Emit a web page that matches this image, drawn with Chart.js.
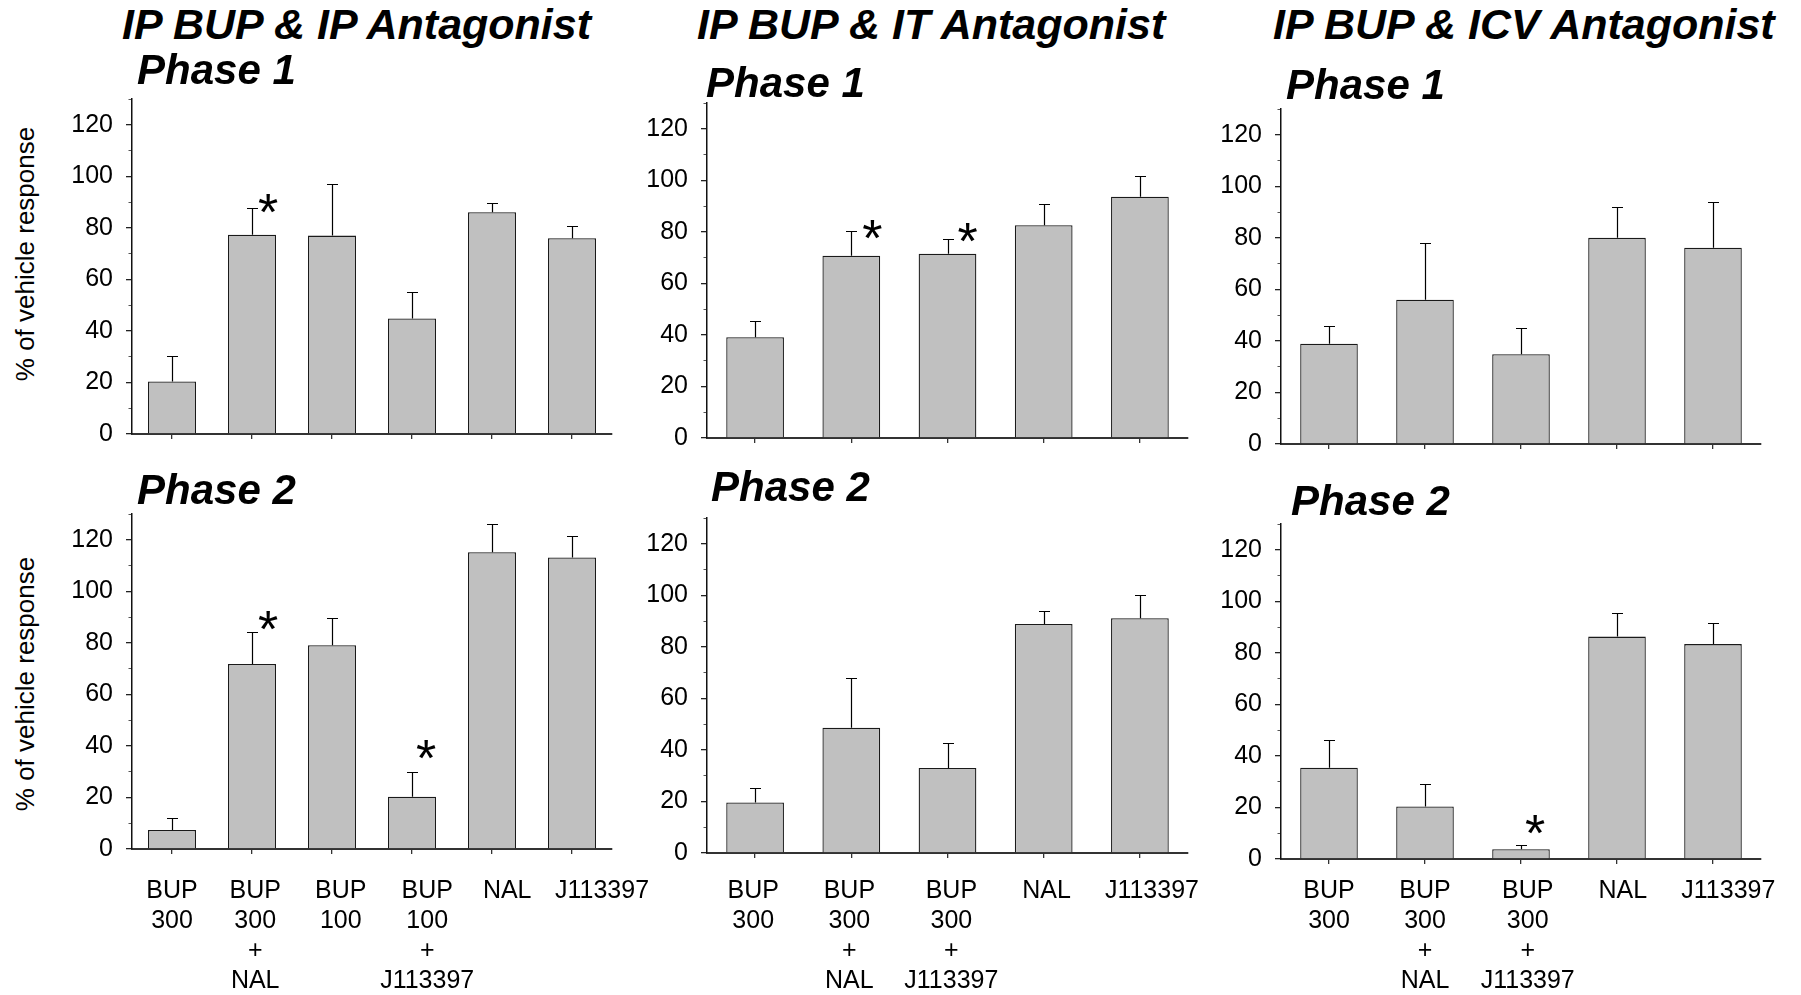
<!DOCTYPE html>
<html>
<head>
<meta charset="utf-8">
<script src="https://cdn.jsdelivr.net/npm/chart.js@4.4.1/dist/chart.umd.min.js"></script>
<style>
html,body{margin:0;padding:0;background:#fff;overflow:hidden;width:1801px;height:995px;}
#stage{position:relative;width:1801px;height:995px;overflow:hidden;}
#stage canvas{position:absolute;}
.t{position:absolute;font-family:'Liberation Sans',Arial,Helvetica,sans-serif;font-weight:bold;font-style:italic;font-size:42px;line-height:42px;white-space:nowrap;color:#000;z-index:5;}
.tt{font-size:43px;}
.yt{position:absolute;font-family:'Liberation Sans',Arial,Helvetica,sans-serif;font-size:26px;line-height:30px;height:30px;width:300px;text-align:center;transform:rotate(-90deg);white-space:nowrap;color:#000;z-index:5;}
</style>
</head>
<body>
<div id="stage">
  <div class="t tt" style="left:122px;top:3px">IP BUP &amp; IP Antagonist</div>
  <div class="t tt" style="left:697px;top:3px">IP BUP &amp; IT Antagonist</div>
  <div class="t tt" style="left:1273px;top:3px">IP BUP &amp; ICV Antagonist</div>
  <div class="t" style="left:137px;top:48.5px">Phase 1</div>
  <div class="t" style="left:706px;top:61.5px">Phase 1</div>
  <div class="t" style="left:1286px;top:63.5px">Phase 1</div>
  <div class="t" style="left:137px;top:468.5px">Phase 2</div>
  <div class="t" style="left:711px;top:465.5px">Phase 2</div>
  <div class="t" style="left:1291px;top:479.5px">Phase 2</div>
  <div class="yt" style="left:-125px;top:239px">% of vehicle response</div>
  <div class="yt" style="left:-125px;top:669px">% of vehicle response</div>
</div>
<script>
// ---------------- DATA ----------------
const ipCategories  = [['BUP','300'], ['BUP','300','+','NAL'], ['BUP','100'], ['BUP','100','+','J113397'], 'NAL', 'J113397'];
const itCategories  = [['BUP','300'], ['BUP','300','+','NAL'], ['BUP','300','+','J113397'], 'NAL', 'J113397'];
const icvCategories = [['BUP','300'], ['BUP','300','+','NAL'], ['BUP','300','+','J113397'], 'NAL', 'J113397'];

const yTickValues      = [0, 20, 40, 60, 80, 100, 120];
const yMinorTickValues = [10, 30, 50, 70, 90, 110, 130];
const yMax = 130;

const ipPhase1Mean = [20.4, 77.3, 77.0, 44.8, 86.1, 76.0];
const ipPhase1Sem  = [9.8, 10.4, 20.0, 10.2, 3.6, 4.6];
const ipPhase1Sig  = [false, true, false, false, false, false];

const ipPhase2Mean = [7.4, 71.8, 79.1, 20.3, 115.2, 113.1];
const ipPhase2Sem  = [4.7, 12.3, 10.4, 9.5, 10.9, 8.4];
const ipPhase2Sig  = [false, true, false, true, false, false];

const itPhase1Mean = [39.1, 70.7, 71.5, 82.6, 93.6];
const itPhase1Sem  = [6.3, 9.7, 5.7, 8.2, 8.2];
const itPhase1Sig  = [false, true, true, false, false];

const itPhase2Mean = [19.6, 48.6, 33.0, 88.9, 91.1];
const itPhase2Sem  = [5.5, 19.2, 9.6, 5.2, 9.1];
const itPhase2Sig  = [false, false, false, false, false];

const icvPhase1Mean = [38.9, 56.0, 34.8, 80.0, 76.2];
const icvPhase1Sem  = [6.7, 22.1, 10.3, 11.8, 17.8];
const icvPhase1Sig  = [false, false, false, false, false];

const icvPhase2Mean = [35.4, 20.4, 3.8, 86.3, 83.4];
const icvPhase2Sem  = [10.9, 8.8, 1.5, 9.1, 8.2];
const icvPhase2Sig  = [false, false, true, false, false];

// ---------------- LAYOUT / STYLE ----------------
Chart.defaults.font.family = "'Liberation Sans', Arial, Helvetica, sans-serif";
Chart.defaults.font.size = 25;
Chart.defaults.color = '#000';

const Y_AXIS_W = 80, PAD_TOP = 40, PAD_RIGHT = 70, PAGE_H = 995;
const LABEL_LINE1_Y = 891;       // absolute centre of first x-label line
const LABEL_LINE_H = 1.2;
const STAR_FONT = 52;

const panels = [
  {cats: ipCategories,  mean: ipPhase1Mean,  sem: ipPhase1Sem,  sig: ipPhase1Sig,  box:{L:132,  T:99,  R:612,  B:434}, bottom:false,
   stars:[null,[16,1],null,null,null,null]},
  {cats: ipCategories,  mean: ipPhase2Mean,  sem: ipPhase2Sem,  sig: ipPhase2Sig,  box:{L:132,  T:514, R:612,  B:849}, bottom:true,
   stars:[null,[16,-7],null,[14,-18],null,null], nudge:[0,0.04,0.11,0.19,0.19,0.375]},
  {cats: itCategories,  mean: itPhase1Mean,  sem: itPhase1Sem,  sig: itPhase1Sig,  box:{L:707,  T:103, R:1188, B:438}, bottom:false,
   stars:[null,[21,4],[20,-1],null,null]},
  {cats: itCategories,  mean: itPhase2Mean,  sem: itPhase2Sem,  sig: itPhase2Sig,  box:{L:707,  T:518, R:1188, B:853}, bottom:true,
   stars:[null,null,null,null,null], nudge:[-0.02,-0.02,0.04,0.03,0.125]},
  {cats: icvCategories, mean: icvPhase1Mean, sem: icvPhase1Sem, sig: icvPhase1Sig, box:{L:1281, T:109, R:1761, B:444}, bottom:false,
   stars:[null,null,null,null,null]},
  {cats: icvCategories, mean: icvPhase2Mean, sem: icvPhase2Sem, sig: icvPhase2Sig, box:{L:1281, T:524, R:1761, B:859}, bottom:true,
   stars:[null,null,[14,-16],null,null], nudge:[0,0,0.07,0.06,0.16]}
];

const semPlugin = {
  id: 'semBars',
  afterDatasetsDraw(chart, args, opts) {
    const ctx = chart.ctx;
    const ys = chart.scales.y;
    const meta = chart.getDatasetMeta(0);
    const values = chart.data.datasets[0].data;
    ctx.save();
    ctx.strokeStyle = '#000';
    ctx.lineWidth = 1.2;
    meta.data.forEach((bar, i) => {
      const topPx = ys.getPixelForValue(values[i] + opts.sem[i]);
      const x = Math.round(bar.x) + 0.5;
      const yTop = Math.round(topPx) + 0.5;
      ctx.beginPath();
      ctx.moveTo(x, bar.y);
      ctx.lineTo(x, yTop);
      ctx.moveTo(x - 5.5, yTop);
      ctx.lineTo(x + 5.5, yTop);
      ctx.stroke();
    });
    const F = STAR_FONT;
    ctx.fillStyle = '#000';
    ctx.font = F + "px 'Liberation Sans', Arial, sans-serif";
    ctx.textAlign = 'center';
    ctx.textBaseline = 'alphabetic';
    meta.data.forEach((bar, i) => {
      if (!opts.sig[i]) return;
      const off = opts.stars[i] || [16, 0];
      const capY = ys.getPixelForValue(values[i] + opts.sem[i]);
      ctx.fillText('*', bar.x + off[0], capY + off[1] + 0.41 * F);
    });
    ctx.restore();
  }
};

const stage = document.getElementById('stage');

panels.forEach(p => {
  const b = p.box;
  const left = b.L - Y_AXIS_W;
  const top = b.T - PAD_TOP;
  const width = (b.R - b.L) + Y_AXIS_W + PAD_RIGHT;
  const height = p.bottom ? (PAGE_H - top) : (b.B - top + 5 + 30);
  const canvas = document.createElement('canvas');
  canvas.width = width; canvas.height = height;
  canvas.style.left = left + 'px'; canvas.style.top = top + 'px';
  canvas.style.width = width + 'px'; canvas.style.height = height + 'px';
  stage.insertBefore(canvas, stage.firstChild);
  const n = p.cats.length;

  const scales = {
    x: {
      type: 'category', position: 'bottom', weight: 0, offset: true,
      grid: {display: true, drawOnChartArea: false, offset: false, drawTicks: true, tickLength: 5, color: '#333', lineWidth: 1.3},
      border: {display: true, color: '#333', width: 2},
      ticks: {display: false},
      afterFit: s => { s.height = 5; }
    },
    y: {
      type: 'linear', position: 'left', weight: 1, min: 0, max: yMax,
      afterBuildTicks: s => { s.ticks = yTickValues.map(v => ({value: v})); },
      ticks: {padding: 13, color: '#000', font: {size: 25}, autoSkip: false},
      grid: {display: true, drawOnChartArea: false, drawTicks: true, tickLength: 6, color: '#222', lineWidth: 1.3},
      border: {display: true, color: '#111', width: 1.5},
      afterFit: s => { s.width = Y_AXIS_W; }
    },
    ym: {
      type: 'linear', position: 'left', weight: 0, min: 0, max: yMax,
      afterBuildTicks: s => { s.ticks = yMinorTickValues.map(v => ({value: v})); },
      ticks: {display: false},
      grid: {display: true, drawOnChartArea: false, drawTicks: true, tickLength: 3.5, color: '#555', lineWidth: 1},
      border: {display: false},
      afterFit: s => { s.width = 0; }
    }
  };
  if (p.bottom) {
    const lh = 25 * LABEL_LINE_H;
    scales.xl = {
      type: 'linear', position: 'bottom', weight: 1, min: -0.5, max: n - 0.5, offset: false,
      afterBuildTicks: s => { s.ticks = p.cats.map((c, i) => ({value: i + p.nudge[i]})); },
      ticks: {autoSkip: false, maxRotation: 0, minRotation: 0, color: '#000',
              padding: LABEL_LINE1_Y - (b.B + 5) - lh / 2,
              font: {size: 25, lineHeight: LABEL_LINE_H},
              callback: (v, i) => p.cats[i]},
      grid: {display: false, drawTicks: false, offset: false},
      border: {display: false},
      afterFit: s => { s.height = PAGE_H - b.B - 5; }
    };
  }

  new Chart(canvas, {
    type: 'bar',
    data: {
      labels: p.cats,
      datasets: [{
        data: p.mean,
        backgroundColor: '#c0c0c0',
        borderColor: '#1a1a1a',
        borderWidth: 1.3,
        barPercentage: 0.6,
        categoryPercentage: 1.0,
        xAxisID: 'x', yAxisID: 'y'
      }]
    },
    options: {
      responsive: false,
      animation: false,
      devicePixelRatio: 1,
      layout: {padding: {top: PAD_TOP, right: PAD_RIGHT, left: 0, bottom: p.bottom ? 0 : 30}},
      plugins: {
        legend: {display: false},
        tooltip: {enabled: false},
        semBars: {sem: p.sem, sig: p.sig, stars: p.stars}
      },
      scales: scales
    },
    plugins: [semPlugin]
  });
});
</script>
</body>
</html>
